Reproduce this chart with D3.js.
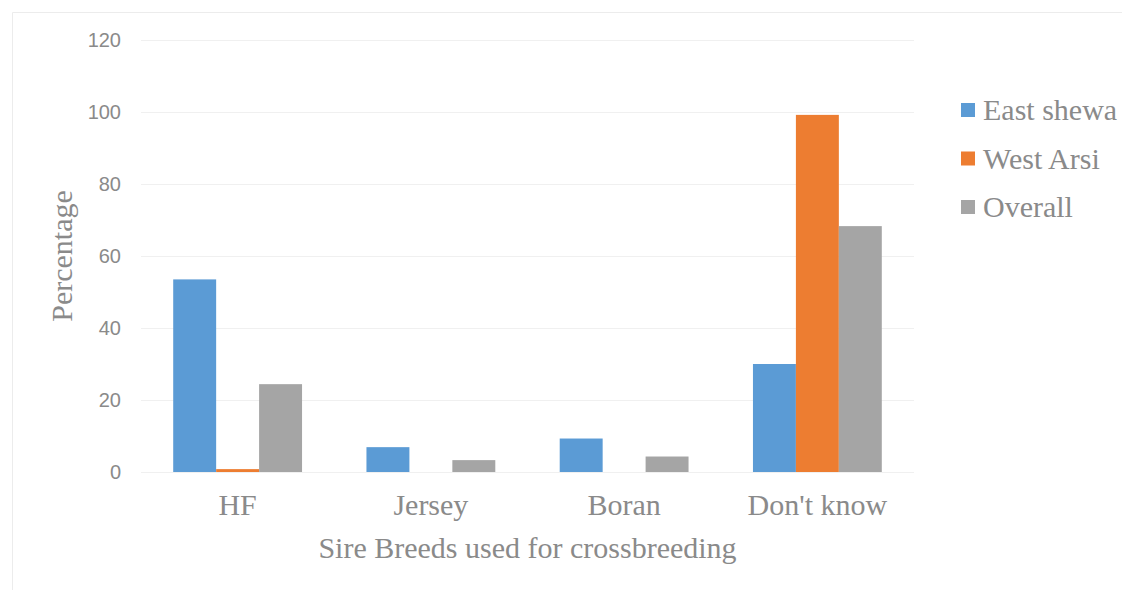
<!DOCTYPE html>
<html>
<head>
<meta charset="utf-8">
<script src="https://cdn.jsdelivr.net/npm/d3@7"></script>
<style>
  html, body { margin: 0; padding: 0; background: #ffffff; }
  svg { display: block; }
</style>
</head>
<body>
<svg id="chart" width="1122" height="590"></svg>
<script>
// Sire breeds used for crossbreeding, by zone (percentage of respondents)
const categories = ["HF", "Jersey", "Boran", "Don't know"];
const seriesNames = ["East shewa", "West Arsi", "Overall"];
const eastShewa = [53.5, 6.9, 9.3, 30.0];
const westArsi  = [0.8, 0, 0, 99.2];
const overall   = [24.4, 3.3, 4.3, 68.3];
const yTicks = [0, 20, 40, 60, 80, 100, 120];
const colors = ["#5B9BD5", "#ED7D31", "#A5A5A5"];

const seriesValues = [eastShewa, westArsi, overall];

const svg = d3.select("#chart");
const W = 1122, H = 590;
const plot = { left: 141, right: 914, top: 40, bottom: 472 };

const textColor = "#8a8a8a";
const serif = "'Liberation Serif', 'Times New Roman', serif";
const sans = "'Liberation Sans', Arial, sans-serif";

// chart area frame
svg.append("path")
  .attr("d", `M12.5,${H} L12.5,12.5 L${W},12.5`)
  .attr("fill", "none")
  .attr("stroke", "#ececec")
  .attr("stroke-width", 1);

const x = d3.scaleBand()
  .domain(categories)
  .range([plot.left, plot.right])
  .paddingInner(0)
  .paddingOuter(0);

// inner scale: three bars with a 150% gap width
const xInner = d3.scaleBand()
  .domain(seriesNames)
  .range([0, x.bandwidth()])
  .paddingInner(0)
  .paddingOuter(0.75 / 3 * 1); // (1.5 bar widths gap split on both sides)

// group width = 3 bars, gap = 1.5 bars => outer padding of 0.75 bar each side
xInner.paddingOuter(0.75);

const y = d3.scaleLinear()
  .domain([0, 120])
  .range([plot.bottom, plot.top]);

// gridlines
svg.append("g")
  .selectAll("line")
  .data(yTicks)
  .join("line")
  .attr("x1", plot.left)
  .attr("x2", plot.right)
  .attr("y1", d => Math.round(y(d)) + 0.5)
  .attr("y2", d => Math.round(y(d)) + 0.5)
  .attr("stroke", "#f0f0f0")
  .attr("stroke-width", 1.2);

// y axis labels
const yAxis = d3.axisLeft(y).tickValues(yTicks).tickSize(0).tickPadding(20);
const yAxisG = svg.append("g")
  .attr("transform", `translate(${plot.left},0)`)
  .call(yAxis);
yAxisG.select(".domain").remove();
yAxisG.selectAll("text")
  .attr("fill", textColor)
  .style("font-family", sans)
  .style("font-size", "20px");

// bars
const groups = svg.append("g")
  .selectAll("g")
  .data(categories)
  .join("g")
  .attr("transform", d => `translate(${x(d)},0)`);

groups.selectAll("rect")
  .data((c, i) => seriesNames.map((s, k) => ({ series: s, value: seriesValues[k][i], k })))
  .join("rect")
  .attr("x", d => xInner(d.series))
  .attr("width", xInner.bandwidth())
  .attr("y", d => y(d.value))
  .attr("height", d => y(0) - y(d.value))
  .attr("fill", d => colors[d.k]);

// x axis labels
const xAxis = d3.axisBottom(x).tickSize(0).tickPadding(22);
const xAxisG = svg.append("g")
  .attr("transform", `translate(0,${plot.bottom})`)
  .call(xAxis);
xAxisG.select(".domain").remove();
xAxisG.selectAll("text")
  .attr("fill", textColor)
  .style("font-family", serif)
  .style("font-size", "30px");

// axis titles
svg.append("text")
  .attr("x", (plot.left + plot.right) / 2)
  .attr("y", 558)
  .attr("text-anchor", "middle")
  .attr("fill", textColor)
  .style("font-family", serif)
  .style("font-size", "30px")
  .text("Sire Breeds used for crossbreeding");

svg.append("text")
  .attr("transform", `translate(72,${(plot.top + plot.bottom) / 2}) rotate(-90)`)
  .attr("text-anchor", "middle")
  .attr("fill", textColor)
  .style("font-family", serif)
  .style("font-size", "30px")
  .text("Percentage");

// legend
const legend = svg.append("g")
  .attr("transform", "translate(961,103)")
  .selectAll("g")
  .data(seriesNames)
  .join("g")
  .attr("transform", (d, i) => `translate(0,${i * 48.5})`);

legend.append("rect")
  .attr("width", 14)
  .attr("height", 14)
  .attr("fill", (d, i) => colors[i]);

legend.append("text")
  .attr("x", 22)
  .attr("y", 17)
  .attr("fill", textColor)
  .style("font-family", serif)
  .style("font-size", "30px")
  .text(d => d);
</script>
</body>
</html>
